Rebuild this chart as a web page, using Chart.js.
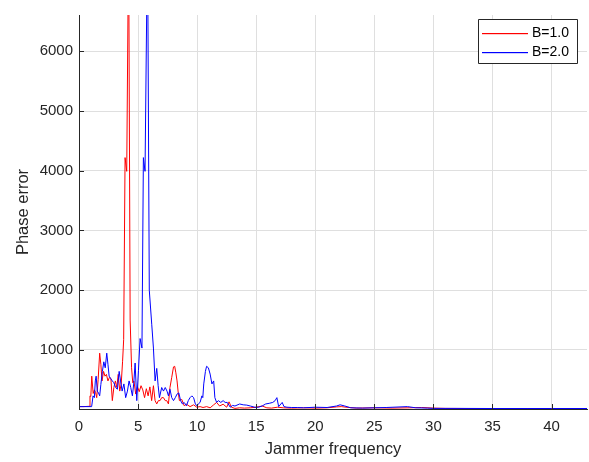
<!DOCTYPE html>
<html><head><meta charset="utf-8">
<script src="https://cdn.jsdelivr.net/npm/chart.js@4/dist/chart.umd.min.js"></script>
<style>html,body{margin:0;padding:0;background:#fff;}</style>
</head><body>
<canvas id="c" width="589" height="462" style="display:block;width:589px;height:462px"></canvas>
<script>
const seriesLabels = ['B=1.0', 'B=2.0'];
const seriesColors = ['#ff0000', '#0000ff'];
const xTicks = [0, 5, 10, 15, 20, 25, 30, 35, 40];
const yTicks = [1000, 2000, 3000, 4000, 5000, 6000];

const freqRed = [0, 0.4, 0.85, 0.93, 1.0, 1.08, 1.2, 1.3, 1.4, 1.5,
  1.62, 1.75, 1.85, 1.95, 2.08, 2.2, 2.32, 2.45, 2.58, 2.7,
  2.82, 2.95, 3.08, 3.2, 3.32, 3.45, 3.57, 3.69, 3.78, 3.9,
  4.04, 4.2, 4.33, 4.45, 4.55, 4.65, 4.8, 4.95, 5.1, 5.25,
  5.4, 5.55, 5.7, 5.85, 6.0, 6.15, 6.3, 6.44, 6.58, 6.72,
  6.86, 7.0, 7.15, 7.3, 7.43, 7.57, 7.7, 7.85, 8.0, 8.1,
  8.2, 8.3, 8.4, 8.5, 8.7, 8.9, 9.1, 9.4, 9.7, 9.97,
  10.25, 10.5, 10.8, 11.1, 11.4, 11.65, 11.9, 12.2, 12.5, 12.7,
  12.9, 13.2, 13.6, 14.0, 14.5, 15.0, 15.5, 15.9, 16.3, 16.8,
  17.3, 18, 19, 20, 21, 21.8, 22.2, 22.6, 23.5, 25,
  26.5, 28, 29, 30, 31, 33, 36, 40, 43];
const phaseErrRed = [50, 50, 55, 230, 220, 560, 270, 330, 290, 200,
  500, 945, 760, 480, 640, 560, 590, 480, 540, 520,
  150, 370, 480, 370, 590, 310, 420, 810, 1170, 4220,
  3990, 8000, 1500, 700, 450, 480, 260, 380, 300, 400,
  330, 200, 350, 230, 380, 150, 400, 150, 95, 150,
  150, 200, 200, 150, 150, 95, 370, 540, 715, 725,
  615, 480, 280, 150, 170, 65, 90, 50, 80, 40,
  50, 35, 50, 30, 80, 120, 60, 90, 40, 130,
  40, 20, 30, 25, 30, 40, 60, 30, 25, 40,
  30, 25, 30, 25, 30, 45, 50, 40, 25, 30,
  25, 30, 35, 25, 20, 18, 17, 17, 17];

const freqBlue = [0, 0.5, 1.07, 1.19, 1.3, 1.38, 1.45, 1.55, 1.65, 1.75,
  1.85, 1.98, 2.1, 2.22, 2.35, 2.45, 2.55, 2.68, 2.82, 2.95,
  3.1, 3.25, 3.4, 3.52, 3.65, 3.8, 3.95, 4.1, 4.24, 4.38,
  4.52, 4.63, 4.75, 4.89, 5.03, 5.17, 5.33, 5.45, 5.59, 5.8,
  5.95, 6.16, 6.3, 6.44, 6.58, 6.7, 6.81, 7.0, 7.15, 7.3,
  7.45, 7.57, 7.7, 7.85, 8.0, 8.15, 8.3, 8.45, 8.6, 8.75,
  8.9, 9.1, 9.25, 9.4, 9.55, 9.7, 9.85, 9.97, 10.1, 10.25,
  10.4, 10.48, 10.56, 10.7, 10.8, 10.95, 11.1, 11.25, 11.4, 11.5,
  11.65, 11.8, 12.0, 12.2, 12.37, 12.55, 12.8, 13.0, 13.2, 13.6,
  13.9, 14.2, 14.5, 14.9, 15.2, 15.5, 15.8, 16.1, 16.4, 16.6,
  16.75, 16.9, 17.2, 17.35, 17.6, 18, 18.5, 19, 20, 21,
  21.8, 22.1, 22.5, 23, 24, 25, 26, 27.8, 28.5, 29.5,
  30, 32, 35, 38, 40, 43];
const phaseErrBlue = [50, 50, 50, 230, 200, 480, 560, 310, 280, 230,
  420, 640, 800, 700, 945, 760, 560, 520, 480, 450,
  370, 340, 640, 480, 310, 430, 200, 310, 480, 370,
  230, 430, 780, 150, 650, 1190, 1030, 4220, 3990, 8000,
  2000, 1420, 1030, 480, 690, 400, 200, 370, 310, 370,
  310, 230, 340, 200, 150, 200, 260, 280, 150, 95,
  120, 65, 150, 200, 230, 200, 95, 65, 95, 120,
  230, 200, 430, 640, 725, 700, 595, 430, 480, 200,
  120, 150, 120, 150, 120, 120, 40, 70, 60, 94,
  80, 75, 60, 38, 40, 60, 94, 105, 120, 150,
  200, 50, 120, 50, 40, 35, 35, 30, 40, 35,
  60, 80, 60, 30, 25, 30, 35, 50, 30, 25,
  20, 20, 18, 18, 18, 18];

const FONT = '"Liberation Sans", Arial, sans-serif';
const AX = '#262626';

const toPts = (xs, ys) => xs.map((x, i) => ({ x: x, y: ys[i] }));

const overlay = {
  id: 'overlay',
  afterDraw(chart) {
    const ctx = chart.ctx, xs = chart.scales.x, ys = chart.scales.y, a = chart.chartArea;
    ctx.save();
    ctx.strokeStyle = AX; ctx.lineWidth = 1;
    ctx.beginPath();
    xTicks.forEach(v => { const px = Math.round(xs.getPixelForValue(v)) + 0.5; ctx.moveTo(px, a.bottom); ctx.lineTo(px, a.bottom - 5); });
    yTicks.forEach(v => { const py = Math.round(ys.getPixelForValue(v)) + 0.5; ctx.moveTo(a.left, py); ctx.lineTo(a.left + 5, py); });
    ctx.stroke();
    // legend
    const lx = 478.5, ly = 19.5, lw = 99, lh = 44;
    ctx.fillStyle = '#ffffff';
    ctx.fillRect(lx, ly, lw, lh);
    ctx.strokeStyle = AX;
    ctx.beginPath();
    ctx.rect(lx, ly, lw, lh);
    ctx.stroke();
    ctx.font = '14px ' + FONT;
    ctx.textAlign = 'left'; ctx.textBaseline = 'middle';
    for (let i = 0; i < seriesLabels.length; i++) {
      const y = 33 + i * 19;
      ctx.fillStyle = seriesColors[i];
      ctx.fillRect(482, y, 46, 1.2);
      ctx.fillStyle = '#000000';
      ctx.fillText(seriesLabels[i], 532, y + 0.5);
    }
    ctx.restore();
  }
};

new Chart(document.getElementById('c'), {
  type: 'line',
  data: {
    datasets: [
      { label: seriesLabels[0], data: toPts(freqRed, phaseErrRed), borderColor: seriesColors[0], borderWidth: 1, pointRadius: 0, tension: 0, fill: false, order: 1 },
      { label: seriesLabels[1], data: toPts(freqBlue, phaseErrBlue), borderColor: seriesColors[1], borderWidth: 1, pointRadius: 0, tension: 0, fill: false, order: 0 }
    ]
  },
  options: {
    responsive: false,
    animation: false,
    devicePixelRatio: 1,
    layout: { padding: { top: 8, right: 2, left: 0, bottom: 0 } },
    plugins: { legend: { display: false }, tooltip: { enabled: false } },
    scales: {
      x: {
        type: 'linear', min: 0, max: 43,
        afterBuildTicks: s => { s.ticks = xTicks.map(v => ({ value: v })); },
        afterFit: s => { s.height = 53; },
        ticks: { font: { size: 15, family: FONT }, color: AX, padding: 9, maxRotation: 0, autoSkip: false, callback: v => String(v) },
        grid: { color: '#dfdfdf', drawTicks: false },
        border: { color: AX, width: 1 },
        title: { display: true, text: 'Jammer frequency', font: { size: 16.5, family: FONT }, color: AX, padding: { top: 0, bottom: 3 } }
      },
      y: {
        type: 'linear', min: 10, max: 6608,
        afterBuildTicks: s => { s.ticks = yTicks.map(v => ({ value: v })); },
        afterFit: s => { s.width = 79; },
        ticks: { font: { size: 15, family: FONT }, color: AX, padding: 6, callback: v => String(v) },
        grid: { color: '#dfdfdf', drawTicks: false },
        border: { color: AX, width: 1 },
        title: { display: true, text: 'Phase error', font: { size: 16.5, family: FONT }, color: AX, padding: { top: 14, bottom: 0 } }
      }
    }
  },
  plugins: [overlay]
});
</script>
</body></html>
